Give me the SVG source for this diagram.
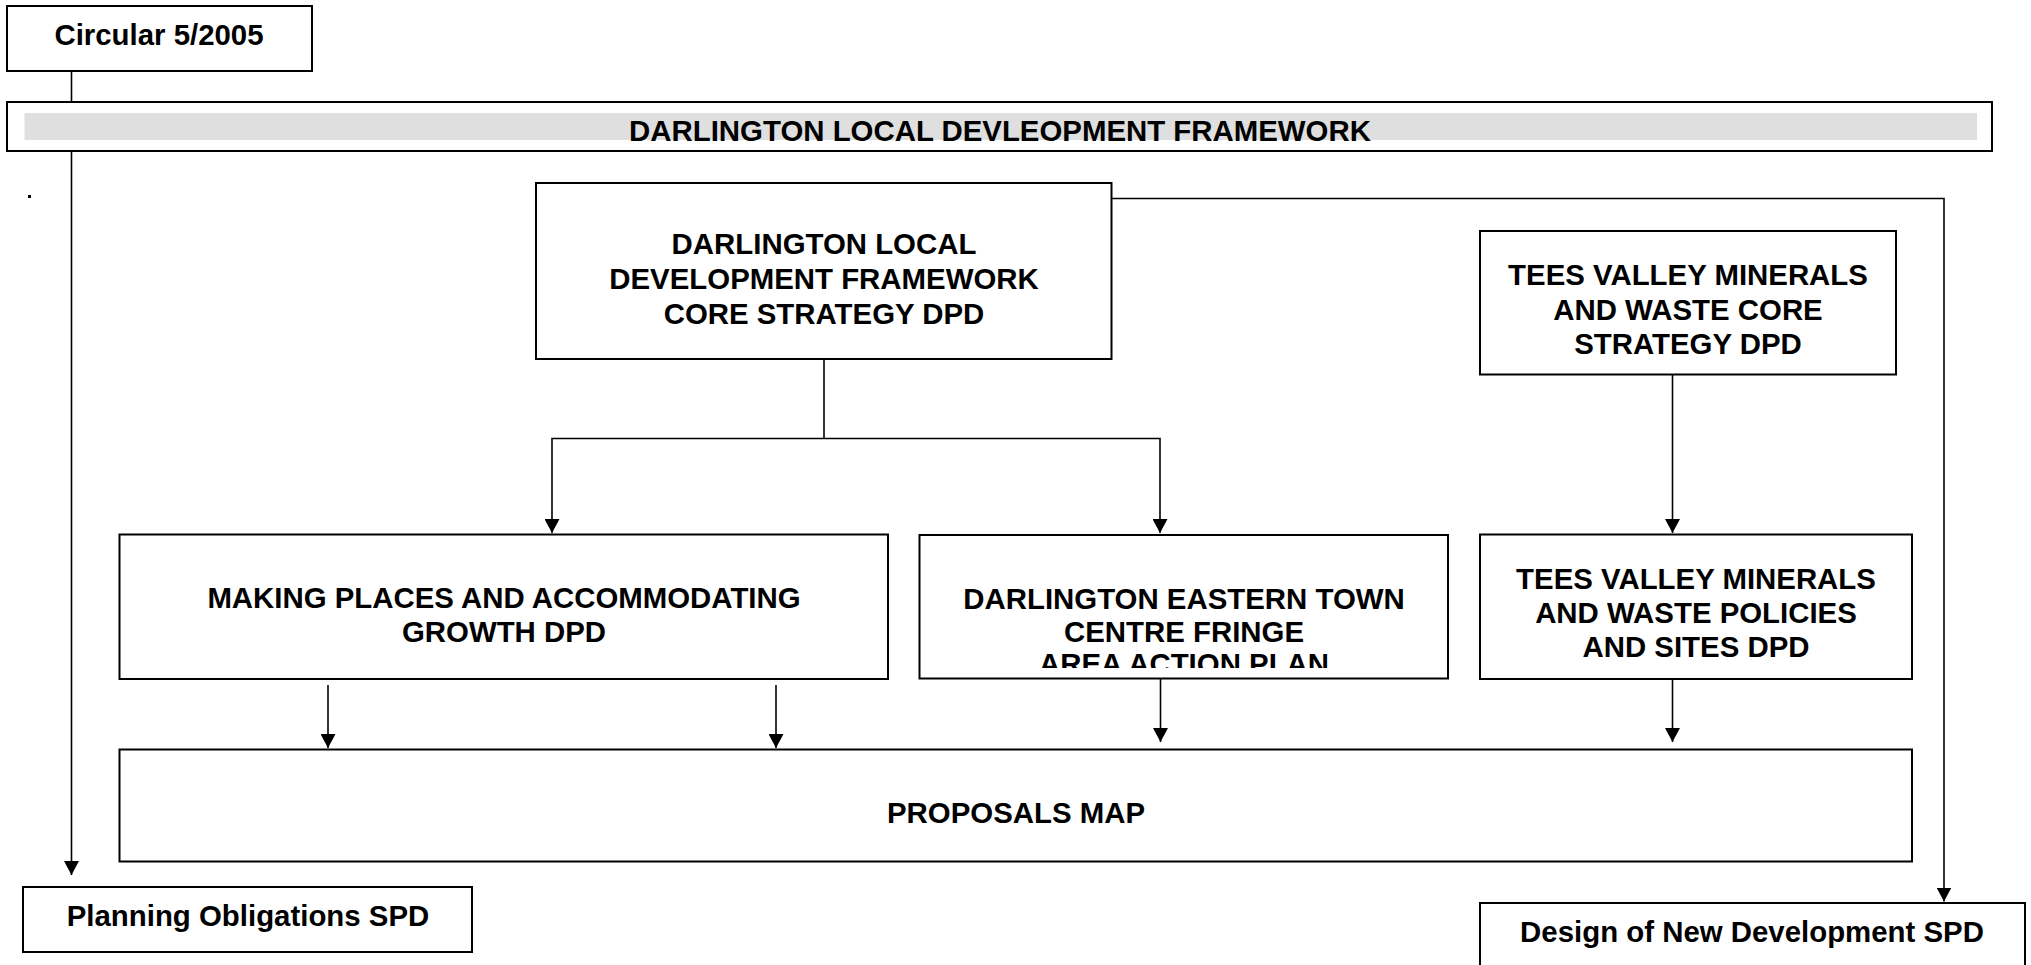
<svg xmlns="http://www.w3.org/2000/svg" width="2031" height="965" viewBox="0 0 2031 965">
<style>
.box{fill:#fff;stroke:#000;stroke-width:2}
.t{font-family:"Liberation Sans",Arial,sans-serif;font-weight:bold;font-size:29.4px;fill:#000;text-anchor:middle}
.c{fill:none;stroke:#000;stroke-width:1.6}
.a{marker-end:url(#arr)}
</style>
<defs>
<marker id="arr" markerUnits="userSpaceOnUse" markerWidth="14" markerHeight="15" refX="14" refY="7.5" orient="auto">
<path d="M0,0 L14,7.5 L0,15 z" fill="#000"/>
</marker>
<clipPath id="eclip"><rect x="919" y="535" width="530" height="133"/></clipPath>
</defs>
<rect width="2031" height="965" fill="#fff"/>
<g id="connectors">
<path class="c" d="M71.5,71 V102"/>
<path class="c a" d="M71.5,151 V875"/>
<path class="c a" d="M1111,198.5 H1944 V901.5"/>
<path class="c" d="M824,359 V438.5"/>
<path class="c a" d="M824,438.5 H552 V533"/>
<path class="c a" d="M824,438.5 H1160 V533"/>
<path class="c a" d="M1672.5,374 V533"/>
<path class="c a" d="M328,685 V748"/>
<path class="c a" d="M776,685 V748"/>
<path class="c a" d="M1160.5,679 V742"/>
<path class="c a" d="M1672.5,679 V742"/>
</g>
<g id="circular">
<rect class="box" x="7" y="6" width="305" height="65"/>
<text class="t" x="159" y="45">Circular 5/2005</text>
</g>
<g id="ldf">
<rect class="box" x="7" y="102" width="1985" height="49"/>
<rect x="24.5" y="113" width="1952.5" height="27" fill="#dfdfdf"/>
<text class="t" x="1000" y="141">DARLINGTON LOCAL DEVLEOPMENT FRAMEWORK</text>
</g>
<g id="dot"><rect x="28" y="195" width="3" height="3" fill="#000"/></g>
<g id="core">
<rect class="box" x="536" y="183" width="575.5" height="176"/>
<text class="t" x="824" y="254"><tspan x="824">DARLINGTON LOCAL</tspan><tspan x="824" dy="35">DEVELOPMENT FRAMEWORK</tspan><tspan x="824" dy="35">CORE STRATEGY DPD</tspan></text>
</g>
<g id="tees-core">
<rect class="box" x="1480" y="231" width="416" height="143.5"/>
<text class="t" x="1688" y="285"><tspan x="1688">TEES VALLEY MINERALS</tspan><tspan x="1688" dy="34.5">AND WASTE CORE</tspan><tspan x="1688" dy="34.5">STRATEGY DPD</tspan></text>
</g>
<g id="making">
<rect class="box" x="119.5" y="534.5" width="768.5" height="144.5"/>
<text class="t" x="504" y="608"><tspan x="504">MAKING PLACES AND ACCOMMODATING</tspan><tspan x="504" dy="33.5">GROWTH DPD</tspan></text>
</g>
<g id="eastern">
<rect class="box" x="919.5" y="535" width="528.5" height="143.5"/>
<text class="t" x="1184" y="609" clip-path="url(#eclip)"><tspan x="1184">DARLINGTON EASTERN TOWN</tspan><tspan x="1184" dy="32.5">CENTRE FRINGE</tspan><tspan x="1184" dy="32.5">AREA ACTION PLAN</tspan></text>
</g>
<g id="tees-policies">
<rect class="box" x="1480" y="534.5" width="432" height="144.5"/>
<text class="t" x="1696" y="589"><tspan x="1696">TEES VALLEY MINERALS</tspan><tspan x="1696" dy="34">AND WASTE POLICIES</tspan><tspan x="1696" dy="34">AND SITES DPD</tspan></text>
</g>
<g id="proposals">
<rect class="box" x="119.5" y="749.5" width="1792.5" height="112"/>
<text class="t" x="1016" y="823">PROPOSALS MAP</text>
</g>
<g id="planning">
<rect class="box" x="23" y="887" width="449" height="65"/>
<text class="t" x="248" y="926">Planning Obligations SPD</text>
</g>
<g id="design">
<rect class="box" x="1480" y="903" width="545" height="80"/>
<text class="t" x="1752" y="942">Design of New Development SPD</text>
</g>
</svg>
